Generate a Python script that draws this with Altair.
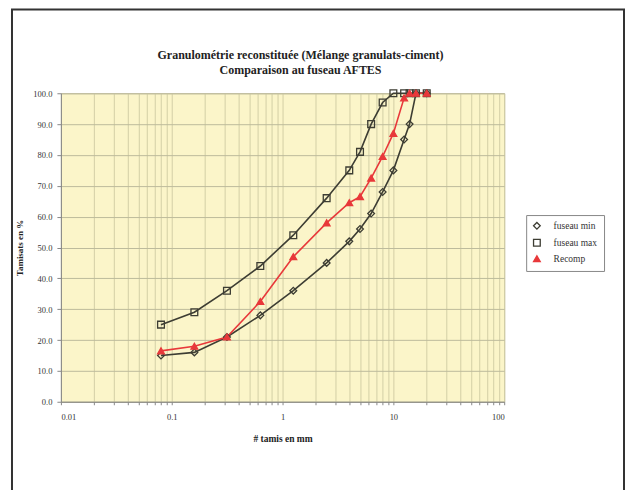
import altair as alt
import pandas as pd

sieves = [0.08, 0.16, 0.315, 0.63, 1.25, 2.5, 4, 5, 6.3, 8, 10, 12.5, 14, 16, 20]
fuseau_min = [15, 16, 21, 28, 36, 45, 52, 56, 61, 68, 75, 85, 90, 100, 100]
fuseau_max = [25, 29, 36, 44, 54, 66, 75, 81, 90, 97, 100, 100, 100, 100, 100]
recomp = [16.5, 18, 21, 32.5, 47, 58, 64.5, 66.5, 72.5, 79.5, 87, 98.5, 100, 100, 100]
series_names = ["fuseau min", "fuseau max", "Recomp"]
title_line1 = "Granulométrie reconstituée (Mélange granulats-ciment)"
title_line2 = "Comparaison au fuseau AFTES"
x_ticks = [m * 10.0 ** e for e in range(-2, 2) for m in range(1, 10)] + [100]
y_ticks = [0.0, 10.0, 20.0, 30.0, 40.0, 50.0, 60.0, 70.0, 80.0, 90.0, 100.0]

rows = []
for name, vals in zip(series_names, [fuseau_min, fuseau_max, recomp]):
    for i, (s, v) in enumerate(zip(sieves, vals)):
        rows.append({"serie": name, "tamis": s, "pct": v, "ord": i})
df = pd.DataFrame(rows)

FONT = "Liberation Serif"
dark = "#3d3d33"
red = "#e8383a"

xscale = alt.Scale(type="log", domain=[0.01, 100], nice=False)
yscale = alt.Scale(domain=[0, 100], nice=False)

xaxis = alt.Axis(values=x_ticks, grid=True, gridColor="#d3cfa6", gridWidth=1,
                 labelExpr="indexof(['0.01','0.1','1','10','100'], datum.label) >= 0 ? datum.label : ''",
                 labelFont=FONT, labelFontSize=8.5, labelColor="#333", labelPadding=8,
                 labelOverlap=False,
                 tickColor="#888", tickSize=3, domainColor="#888",
                 title="# tamis en mm", titleFont=FONT, titleFontSize=9.5, titleFontWeight="bold",
                 titlePadding=12, titleColor="#222")
yaxis = alt.Axis(values=y_ticks, tickCount=11, format=".1f", grid=True, gridColor="#bdbb9c", gridWidth=1,
                 labelFont=FONT, labelFontSize=8.5, labelColor="#333", labelPadding=5,
                 labelOverlap=False,
                 tickColor="#888", tickSize=4, domainColor="#888",
                 title="Tamisats en %", titleFont=FONT, titleFontSize=9, titleFontWeight="bold",
                 titlePadding=8, titleColor="#222")

leg = alt.Legend(title=None, orient="none", legendX=466, legendY=122,
                 labelFont=FONT, labelFontSize=9.5, labelColor="#333", labelOffset=12,
                 strokeColor="#888", fillColor="white", padding=6,
                 symbolSize=45, rowPadding=4, symbolStrokeWidth=1.3)
color = alt.Color("serie:N", scale=alt.Scale(domain=series_names, range=[dark, dark, red]), legend=leg)
shape = alt.Shape("serie:N", scale=alt.Scale(domain=series_names, range=["diamond", "square", "triangle-up"]), legend=leg)
fill = alt.Fill("serie:N", scale=alt.Scale(domain=series_names, range=["transparent", "transparent", red]), legend=leg)

base = alt.Chart(df)
lines = base.mark_line(strokeWidth=1.6).encode(
    x=alt.X("tamis:Q", scale=xscale, axis=xaxis),
    y=alt.Y("pct:Q", scale=yscale, axis=yaxis),
    color=color,
    detail="serie:N",
    order="ord:Q",
)
points = base.mark_point(size=46, strokeWidth=1.3, opacity=1).encode(
    x=alt.X("tamis:Q", scale=xscale, axis=xaxis),
    y=alt.Y("pct:Q", scale=yscale, axis=yaxis),
    color=color, shape=shape, fill=fill,
)

one = pd.DataFrame({"k": [0]})
title_style = dict(font=FONT, fontSize=12, fontWeight="bold", color="#222", align="center", baseline="middle")
t1 = alt.Chart(one).mark_text(text=title_line1, **title_style).encode(x=alt.value(240), y=alt.value(-38))
t2 = alt.Chart(one).mark_text(text=title_line2, **title_style).encode(x=alt.value(240), y=alt.value(-23))

frame = alt.Chart(one).mark_rect(fillOpacity=0, stroke="#333", strokeWidth=2, clip=False).encode(
    x=alt.value(-49), x2=alt.value(564), y=alt.value(-84), y2=alt.value(420)
)

chart = alt.layer(lines, points, t1, t2, frame).properties(
    width=444, height=309,
    autosize=alt.AutoSizeParams(type="none"),
    padding={"left": 53, "top": 85, "right": 121, "bottom": 88},
    background="white",
).configure_view(fill="#fbf5c9", stroke="#bdbb9c")

chart.save("out.html", embed_options={"renderer": "svg", "actions": False})
